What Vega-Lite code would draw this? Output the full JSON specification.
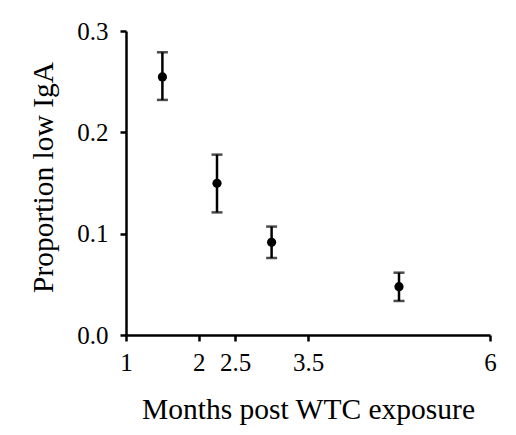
{
  "$schema": "https://vega.github.io/schema/vega-lite/v6.json",
  "autosize": {"type": "none"},
  "padding": {"left": 126, "top": 31, "right": 26, "bottom": 100},
  "width": 364,
  "height": 304,
  "background": "white",
  "config": {
    "view": {"stroke": null},
    "font": "Liberation Serif",
    "axis": {
      "domainColor": "black",
      "domainWidth": 2.5,
      "tickColor": "black",
      "tickWidth": 2.5,
      "tickSize": 6,
      "grid": false,
      "labelFont": "Liberation Serif",
      "labelFontSize": 25,
      "labelColor": "black",
      "titleFont": "Liberation Serif",
      "titleFontSize": 29.5,
      "titleFontWeight": "normal",
      "titleColor": "black"
    }
  },
  "data": {
    "values": [
      {"month": 1.5, "prop": 0.2547, "lo": 0.232, "hi": 0.279},
      {"month": 2.25, "prop": 0.1497, "lo": 0.121, "hi": 0.178},
      {"month": 3.0, "prop": 0.0915, "lo": 0.076, "hi": 0.107},
      {"month": 4.75, "prop": 0.0477, "lo": 0.0336, "hi": 0.0615}
    ]
  },
  "encoding": {
    "x": {
      "field": "month", "type": "quantitative",
      "scale": {"domain": [1, 6], "nice": false, "zero": false},
      "axis": {"values": [1, 2, 2.5, 3.5, 6], "format": ".1~f", "title": "Months post WTC exposure", "labelPadding": 9, "titlePadding": 20, "labelFlush": false, "labelOverlap": false}
    }
  },
  "layer": [
    {
      "mark": {"type": "rule", "color": "black", "strokeWidth": 2.5},
      "encoding": {
        "y": {"field": "lo", "type": "quantitative",
          "scale": {"domain": [0, 0.3], "nice": false},
          "axis": {"values": [0, 0.1, 0.2, 0.3], "format": ".1f", "title": "Proportion low IgA", "labelPadding": 12, "titlePadding": 18, "titleY": 146, "labelFlush": false}},
        "y2": {"field": "hi"}
      }
    },
    {
      "mark": {"type": "tick", "color": "black", "orient": "horizontal", "size": 11, "thickness": 2.5},
      "encoding": {"y": {"field": "lo", "type": "quantitative"}}
    },
    {
      "mark": {"type": "tick", "color": "black", "orient": "horizontal", "size": 11, "thickness": 2.5},
      "encoding": {"y": {"field": "hi", "type": "quantitative"}}
    },
    {
      "mark": {"type": "point", "filled": true, "color": "black", "opacity": 1, "size": 85},
      "encoding": {"y": {"field": "prop", "type": "quantitative"}}
    }
  ]
}
